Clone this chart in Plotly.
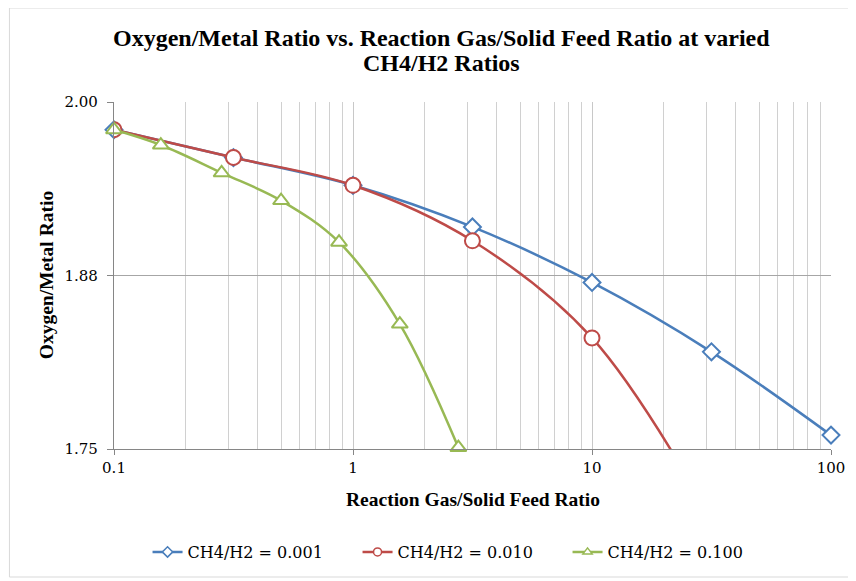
import plotly.graph_objects as go

# Data
x_blue = [0.1, 0.316, 1.0, 3.16, 10.0, 31.6, 100.0]
y_blue = [1.980, 1.960, 1.940, 1.910, 1.870, 1.820, 1.760]

x_red = [0.1, 0.316, 1.0, 3.16, 10.0, 31.6]
y_red = [1.980, 1.960, 1.940, 1.900, 1.830, 1.700]

x_green = [0.1, 0.157, 0.282, 0.50, 0.874, 1.57, 2.76]
y_green = [1.980, 1.969, 1.949, 1.929, 1.899, 1.840, 1.751]

names = ["CH4/H2 = 0.001", "CH4/H2 = 0.010", "CH4/H2 = 0.100"]
colors = ["#4A7EBB", "#BE4B48", "#98B954"]
symbols = ["diamond", "circle", "triangle-up"]
msizes = [13, 15, 14]

y_tickvals = [1.75, 1.875, 2.0]
y_ticktext = ["1.75", "1.88", "2.00"]
x_tickvals = [0.1, 1, 10, 100]
x_ticktext = ["0.1", "1", "10", "100"]

TNR = "Liberation Serif, Times New Roman, serif"
DV = "DejaVu Serif, serif"

# page has a small body margin; figure sized accordingly
OFF = 7
W, H = 856 - OFF, 581 - OFF
L, R, T, B = 113 - OFF, 23, 101 - OFF, 133
PW, PH = W - L - R, H - T - B


def px_x(wx):
    return (wx - OFF - L) / PW


def px_y(wy):
    return (H - B - (wy - OFF)) / PH


fig = go.Figure()
series = [(x_blue, y_blue, False), (x_red, y_red, True), (x_green, y_green, False)]
for (xs, ys, clip), name, c, s, ms in zip(series, names, colors, symbols, msizes):
    fig.add_trace(go.Scatter(
        x=xs, y=ys, name=name, mode="lines+markers", showlegend=False,
        line=dict(color=c, width=2.5, shape="spline", smoothing=1.0),
        marker=dict(symbol=s, size=ms, color="white", line=dict(color=c, width=2)),
        cliponaxis=clip,
    ))
    # small-marker legend entry
    fig.add_trace(go.Scatter(
        x=[None], y=[None], name=name, mode="lines+markers", showlegend=True,
        line=dict(color=c, width=2.5),
        marker=dict(symbol=s, size=8, color="white", line=dict(color=c, width=1.5)),
    ))

fig.update_layout(
    width=W, height=H,
    paper_bgcolor="white", plot_bgcolor="white",
    margin=dict(l=L, r=R, t=T, b=B),
    font=dict(family=DV, size=15, color="black"),
    legend=dict(
        orientation="h", x=px_x(463), xanchor="center", y=px_y(551), yanchor="middle",
        font=dict(family=DV, size=16, color="black"),
        entrywidth=165, entrywidthmode="pixels", traceorder="normal",
    ),
    showlegend=True,
)

fig.add_annotation(text="<b>Oxygen/Metal Ratio vs. Reaction Gas/Solid Feed Ratio at varied</b>",
                   xref="paper", yref="paper", x=px_x(441.5), y=px_y(37),
                   xanchor="center", yanchor="middle", showarrow=False,
                   font=dict(family=TNR, size=24, color="black"))
fig.add_annotation(text="<b>CH4/H2 Ratios</b>",
                   xref="paper", yref="paper", x=px_x(441.5), y=px_y(62),
                   xanchor="center", yanchor="middle", showarrow=False,
                   font=dict(family=TNR, size=24, color="black"))
fig.add_annotation(text="<b>Reaction Gas/Solid Feed Ratio</b>",
                   xref="paper", yref="paper", x=px_x(473), y=px_y(499),
                   xanchor="center", yanchor="middle", showarrow=False,
                   font=dict(family=TNR, size=19.5, color="black"))
fig.add_annotation(text="<b>Oxygen/Metal Ratio</b>", textangle=-90,
                   xref="paper", yref="paper", x=px_x(45), y=px_y(274),
                   xanchor="center", yanchor="middle", showarrow=False,
                   font=dict(family=TNR, size=19.5, color="black"))

fig.update_xaxes(
    type="log", range=[-1, 2],
    tickvals=x_tickvals, ticktext=x_ticktext,
    ticks="outside", ticklen=5, tickcolor="#868686",
    showline=True, linecolor="#868686", linewidth=1.2,
    showgrid=True, gridcolor="#C8C8C8", gridwidth=1,
    minor=dict(dtick="D1", showgrid=True, gridcolor="#D0D0D0", gridwidth=1, ticks=""),
    tickfont=dict(family=DV, size=15),
    zeroline=False,
)
fig.update_yaxes(
    range=[1.75, 2.0],
    tickvals=y_tickvals, ticktext=y_ticktext,
    ticks="outside", ticklen=6, tickcolor="#868686",
    ticklabelstandoff=6,
    showline=True, linecolor="#868686", linewidth=1.2,
    showgrid=True, gridcolor="#A6A6A6", gridwidth=1,
    tickfont=dict(family=DV, size=15),
    zeroline=False,
)

# light chart border
fig.add_shape(type="rect", xref="paper", yref="paper",
              x0=px_x(8), x1=px_x(851), y0=px_y(576), y1=px_y(OFF),
              line=dict(color="#D9D9D9", width=1), fillcolor="rgba(0,0,0,0)", layer="below")

fig.write_html("out.html")
